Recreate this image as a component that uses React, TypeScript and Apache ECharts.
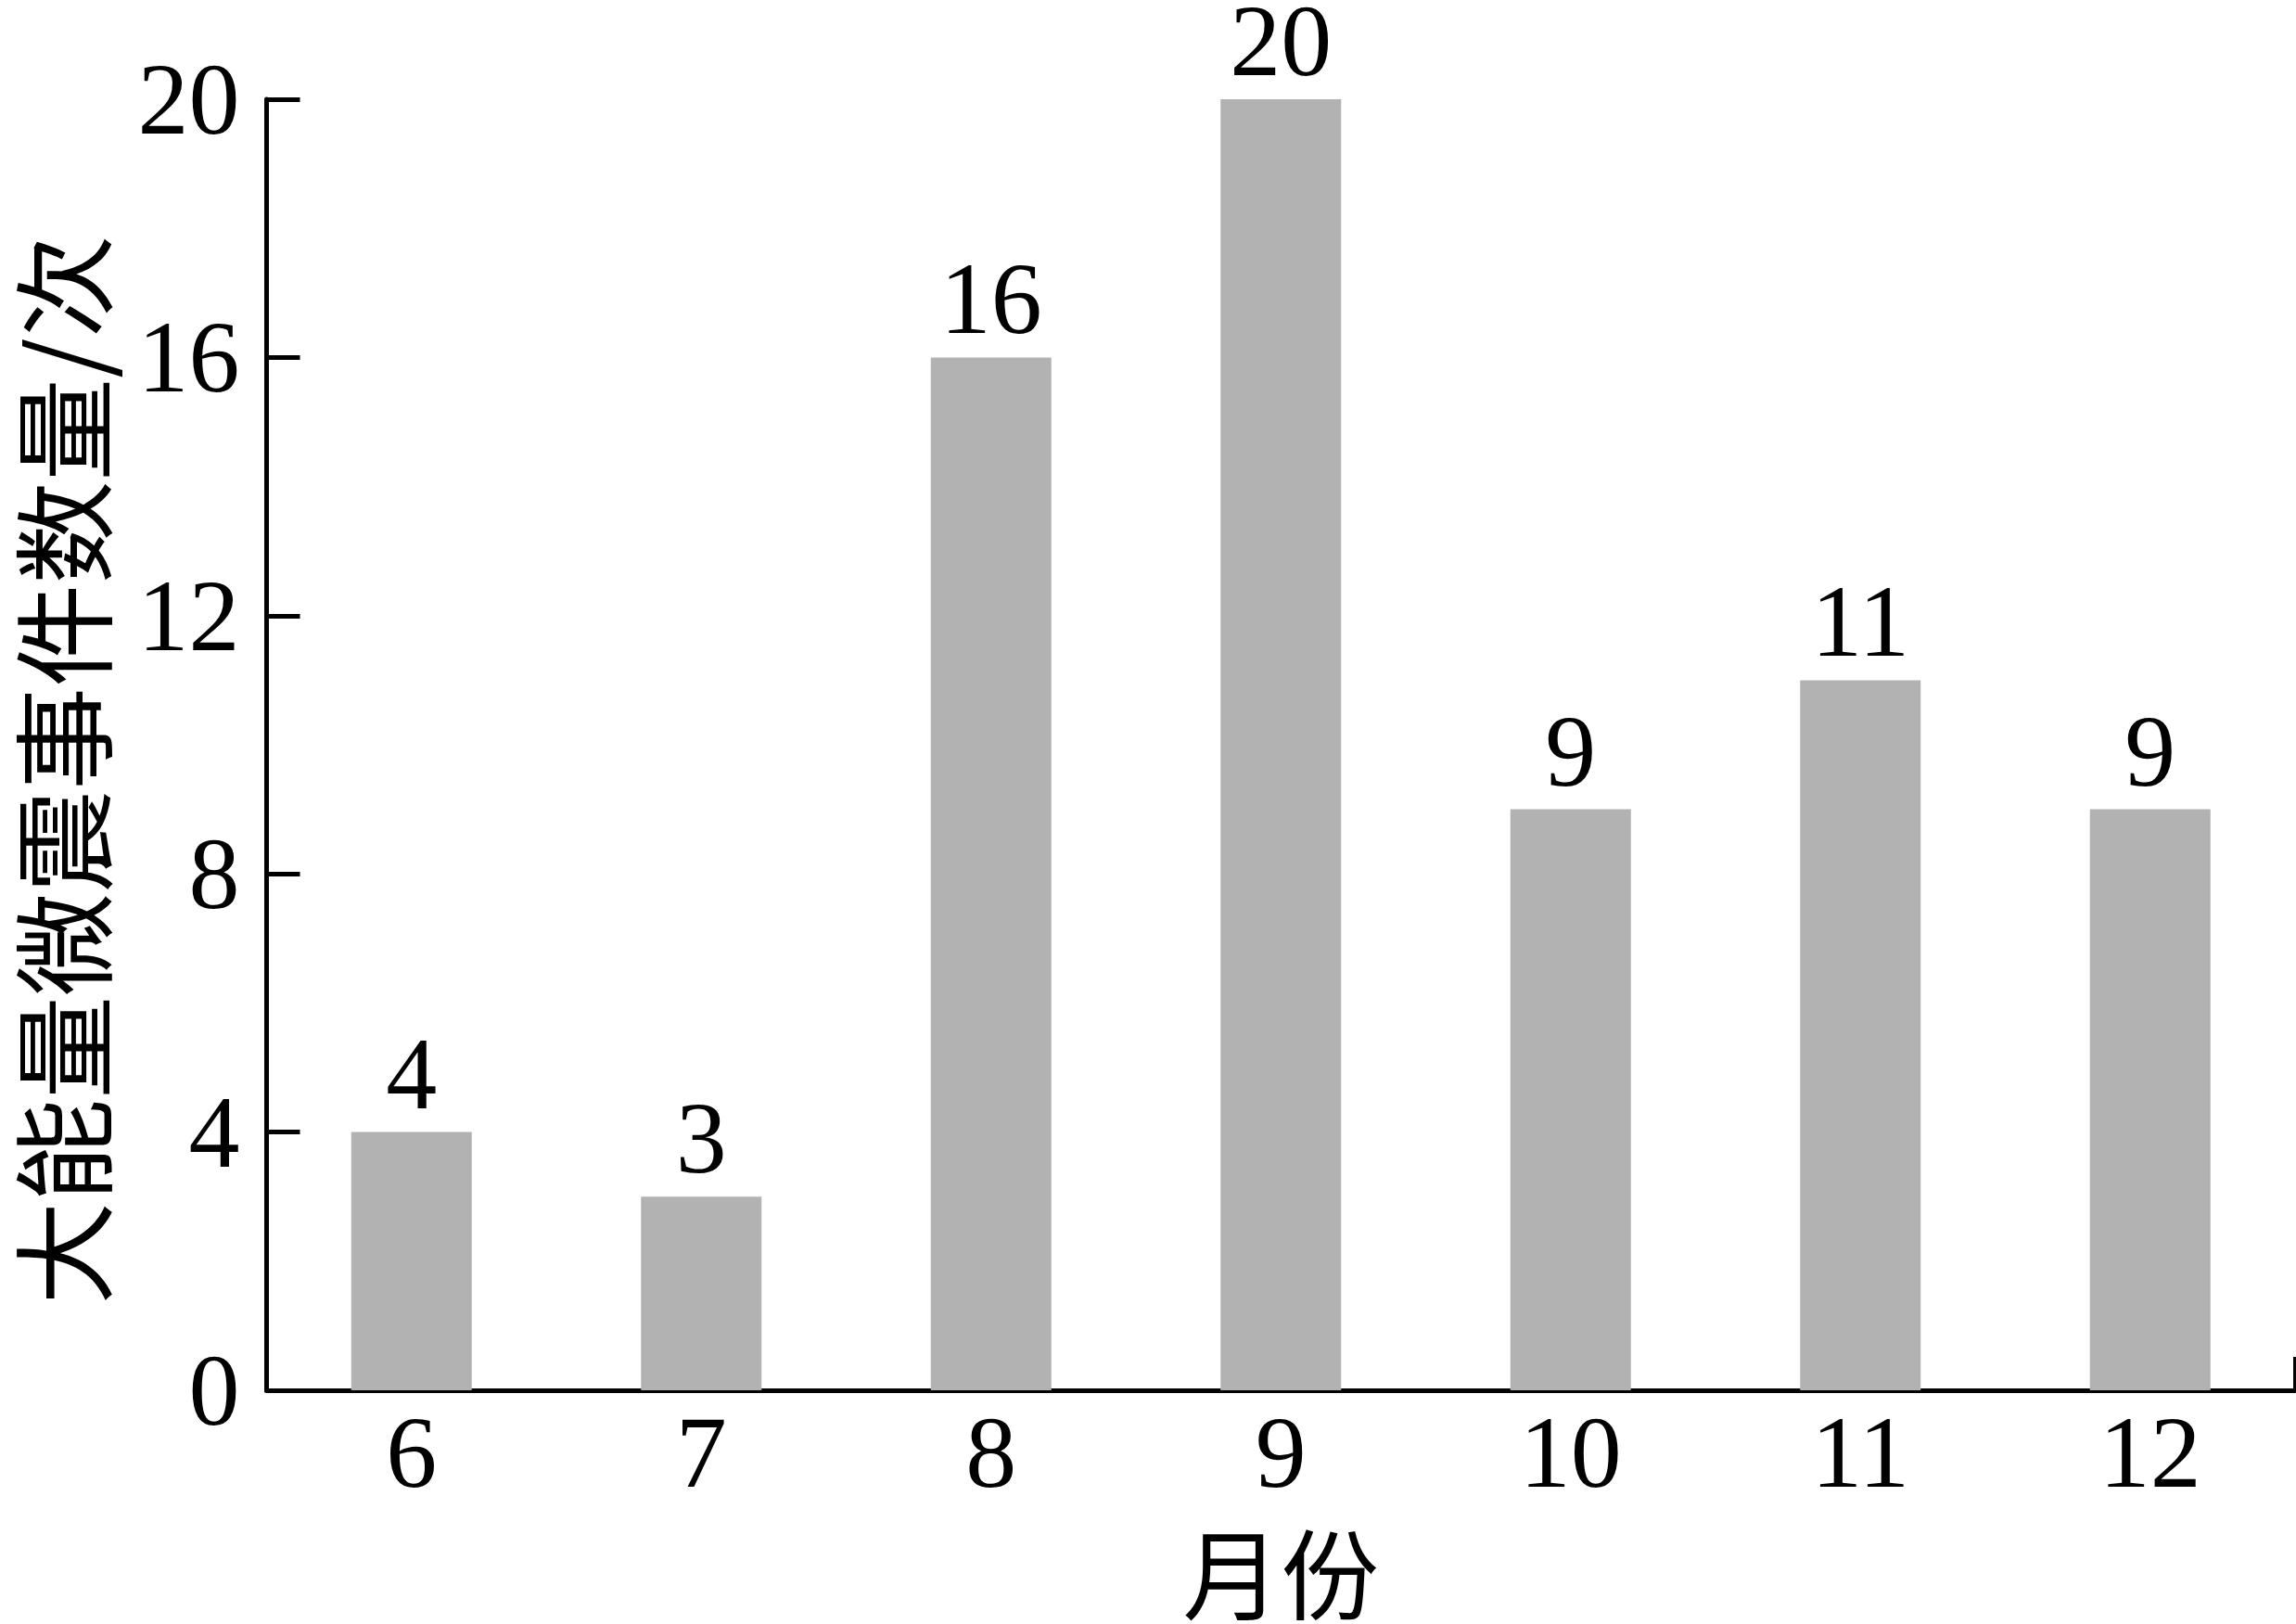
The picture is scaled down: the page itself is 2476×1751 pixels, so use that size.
import React, { useEffect, useRef } from "react";
import * as echarts from "echarts";

const months = ["6", "7", "8", "9", "10", "11", "12"];
const eventCounts = [4, 3, 16, 20, 9, 11, 9];
const yTicks = { min: 0, max: 20, interval: 4 };
const yAxisName = "大能量微震事件数量/次";
const xAxisName = "月份";

const NUM_FONT = "'Liberation Serif', 'Times New Roman', serif";
const CJK_FONT = "'Noto Sans CJK SC', sans-serif";

export default function App() {
  const ref = useRef<HTMLDivElement>(null);
  useEffect(() => {
    document.body.style.margin = "0";
    if (!ref.current) return;
    const chart = echarts.init(ref.current, undefined, { renderer: "svg" });
    chart.setOption({
      animation: false,
      backgroundColor: "#ffffff",
      grid: { left: 277, right: 1, top: 107, bottom: 252, containLabel: false },
      xAxis: [
        {
          type: "category",
          data: months,
          boundaryGap: true,
          name: xAxisName,
          nameLocation: "middle",
          nameGap: 140,
          nameTextStyle: { fontFamily: CJK_FONT, fontSize: 106, color: "#000" },
          axisLine: { show: true, lineStyle: { color: "#000", width: 5 } },
          axisTick: { show: false },
          axisLabel: { fontFamily: NUM_FONT, fontSize: 110, color: "#000", margin: 12 },
          splitLine: { show: false },
        },
        {
          type: "value",
          min: 0,
          max: 1,
          interval: 1,
          position: "bottom",
          axisLine: { show: false },
          axisLabel: { show: false },
          axisTick: { show: true, inside: true, length: 36, lineStyle: { color: "#000", width: 5 } },
          splitLine: { show: false },
        },
      ],
      yAxis: {
        type: "value",
        min: yTicks.min,
        max: yTicks.max,
        interval: yTicks.interval,
        name: yAxisName,
        nameLocation: "middle",
        nameGap: 174,
        nameTextStyle: {
          fontFamily: CJK_FONT,
          fontSize: 111,
          lineHeight: 100,
          color: "#000",
          padding: [0, 54, 0, 0],
        },
        axisLine: { show: true, lineStyle: { color: "#000", width: 5 } },
        axisTick: { show: true, inside: true, length: 36, lineStyle: { color: "#000", width: 5 } },
        axisLabel: { fontFamily: NUM_FONT, fontSize: 110, color: "#000", margin: 29 },
        splitLine: { show: false },
      },
      series: [
        {
          type: "bar",
          xAxisIndex: 0,
          data: eventCounts,
          barWidth: 130,
          itemStyle: { color: "#b2b2b2" },
          label: {
            show: true,
            position: "top",
            distance: 8,
            fontFamily: NUM_FONT,
            fontSize: 110,
            color: "#000",
          },
        },
      ],
    });
    return () => chart.dispose();
  }, []);
  return (
    <div
      ref={ref}
      style={{ position: "fixed", left: 0, top: 0, width: 2476, height: 1751 }}
    />
  );
}
